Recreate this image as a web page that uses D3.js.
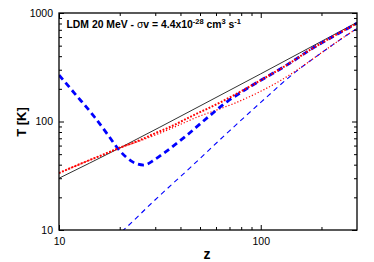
<!DOCTYPE html>
<html><head><meta charset="utf-8">
<script src="https://cdn.jsdelivr.net/npm/d3@7"></script>
<style>
html,body{margin:0;padding:0;background:#fff;}
text{font-family:"Liberation Sans",Arial,Helvetica,sans-serif;}
</style></head>
<body>
<svg id="c" width="374" height="262"></svg>
<script>
// ---- data ----
const zCMB = [10, 20, 50, 100, 200, 300];
const tCMB = [30, 57, 139, 275, 548, 820];

const zRedThick = [10, 13.5, 17, 19.4, 25, 30, 35.7, 45, 63, 80, 100, 141, 178, 230, 280, 300];
const tRedThick = [33.5, 42.5, 50.5, 56, 67, 78, 89.5, 111, 150, 190, 240, 350, 465, 612, 749, 805];

const zRedThin = [10, 13.5, 17, 19.4, 25, 30, 40, 48.5, 60, 74, 100, 126, 150, 200, 250, 300];
const tRedThin = [33.5, 42.5, 50.5, 56, 66, 75, 94, 110, 127, 147, 190, 240, 295, 430, 575, 720];

const zBlueThick = [10, 12, 15, 17.5, 19.5, 21.5, 23.4, 26.3, 30, 33.5, 42.4, 52, 68, 84, 100, 110, 141, 178, 230, 280, 300];
const tBlueThick = [268, 180, 110, 75, 57, 47, 42, 39.7, 45, 52, 73, 101, 152, 197, 240, 265, 350, 465, 612, 749, 805];

const zBlueThin = [19, 20.9, 30, 45, 70, 100, 150, 200, 250, 300];
const tBlueThin = [8.5, 10, 19, 38, 82, 150, 290, 430, 575, 720];

const xTicks = [10, 100];
const yTicks = [10, 100, 1000];

// ---- layout ----
const L = 59, R = 357, T = 13, B = 230;
const svg = d3.select("#c");
const x = d3.scaleLog().domain([10, 300]).range([L, R]);
const y = d3.scaleLog().domain([10, 1000]).range([B, T]);

svg.append("defs").append("clipPath").attr("id", "clip")
  .append("rect").attr("x", L).attr("y", T).attr("width", R - L).attr("height", B - T);

const g = svg.append("g").attr("clip-path", "url(#clip)");
const line = d3.line().x(d => x(d[0])).y(d => y(d[1])).curve(d3.curveMonotoneX);
const zip = (a, b) => a.map((v, i) => [v, b[i]]);

g.append("path").attr("d", line(zip(zCMB, tCMB))).attr("fill", "none")
  .attr("stroke", "#333").attr("stroke-width", 1);
g.append("path").attr("d", line(zip(zBlueThin, tBlueThin))).attr("fill", "none")
  .attr("stroke", "#0000ff").attr("stroke-width", 1.1).attr("stroke-dasharray", "5,4");
g.append("path").attr("d", line(zip(zRedThin, tRedThin))).attr("fill", "none")
  .attr("stroke", "#ff0000").attr("stroke-width", 1.2).attr("stroke-dasharray", "1.2,2");
g.append("path").attr("d", line(zip(zBlueThick, tBlueThick))).attr("fill", "none")
  .attr("stroke", "#0000ff").attr("stroke-width", 2.8).attr("stroke-dasharray", "6,4");
g.append("path").attr("d", line(zip(zRedThick, tRedThick))).attr("fill", "none")
  .attr("stroke", "#ff0000").attr("stroke-width", 2).attr("stroke-dasharray", "1.8,1.6");

// ---- axes (inward ticks on all sides) ----
const xMinor = [];
for (let d = 10; d <= 100; d *= 10) for (let k = 1; k < 10; k++) { const v = d * k; if (v > 10 && v < 300 && v !== 100) xMinor.push(v); }
const yMinor = [];
for (let d = 10; d < 1000; d *= 10) for (let k = 2; k < 10; k++) yMinor.push(d * k);

const axX = d3.axisBottom(x).tickValues(xTicks).tickFormat(d3.format("d")).tickSizeInner(-5).tickSizeOuter(0).tickPadding(8);
const axY = d3.axisLeft(y).tickValues(yTicks).tickFormat(d3.format("d")).tickSizeInner(-5).tickSizeOuter(0).tickPadding(6);

const gx = svg.append("g").attr("transform", `translate(0,${B})`).call(axX);
const gy = svg.append("g").attr("transform", `translate(${L},0)`).call(axY);
[gx, gy].forEach(a => {
  a.select(".domain").remove();
  a.selectAll("line").attr("stroke", "#000");
  a.selectAll("text").attr("font-size", 10.5).attr("fill", "#000")
    .style("font-family", '"Liberation Sans",Arial,sans-serif');
});
// minor ticks
svg.append("g").attr("transform", `translate(0,${B})`).call(d3.axisBottom(x).tickValues(xMinor).tickFormat("").tickSizeInner(-3).tickSizeOuter(0))
  .call(a => a.select(".domain").remove());
svg.append("g").attr("transform", `translate(0,${T})`).call(d3.axisTop(x).tickValues(xTicks).tickFormat("").tickSizeInner(-5).tickSizeOuter(0))
  .call(a => a.select(".domain").remove());
svg.append("g").attr("transform", `translate(0,${T})`).call(d3.axisTop(x).tickValues(xMinor).tickFormat("").tickSizeInner(-3).tickSizeOuter(0))
  .call(a => a.select(".domain").remove());
svg.append("g").attr("transform", `translate(${L},0)`).call(d3.axisLeft(y).tickValues(yMinor).tickFormat("").tickSizeInner(-3).tickSizeOuter(0))
  .call(a => a.select(".domain").remove());
svg.append("g").attr("transform", `translate(${R},0)`).call(d3.axisRight(y).tickValues(yTicks).tickFormat("").tickSizeInner(-5).tickSizeOuter(0))
  .call(a => a.select(".domain").remove());
svg.append("g").attr("transform", `translate(${R},0)`).call(d3.axisRight(y).tickValues(yMinor).tickFormat("").tickSizeInner(-3).tickSizeOuter(0))
  .call(a => a.select(".domain").remove());

// frame
svg.append("rect").attr("x", L).attr("y", T).attr("width", R - L).attr("height", B - T)
  .attr("fill", "none").attr("stroke", "#000").attr("stroke-width", 1.3);

// labels
svg.append("text").attr("x", 207).attr("y", 259).attr("text-anchor", "middle")
  .attr("font-size", 14).attr("font-weight", "bold").text("z");
svg.append("text").attr("transform", "translate(26,122) rotate(-90)").attr("text-anchor", "middle")
  .attr("font-size", 13).attr("font-weight", "bold").text("T [K]");

// title
const tt = svg.append("text").attr("x", 66.5).attr("y", 28).attr("font-size", 10.4).attr("font-weight", "bold");
tt.append("tspan").text("LDM 20 MeV - ");
tt.append("tspan").attr("font-weight", "normal").text("σ");
tt.append("tspan").text("v = 4.4x10");
tt.append("tspan").attr("font-size", 7.5).attr("dy", -4).text("-28");
tt.append("tspan").attr("dy", 4).text(" cm");
tt.append("tspan").attr("font-size", 7.5).attr("dy", -4).text("3");
tt.append("tspan").attr("dy", 4).text(" s");
tt.append("tspan").attr("font-size", 7.5).attr("dy", -4).text("-1");
</script>
</body></html>
